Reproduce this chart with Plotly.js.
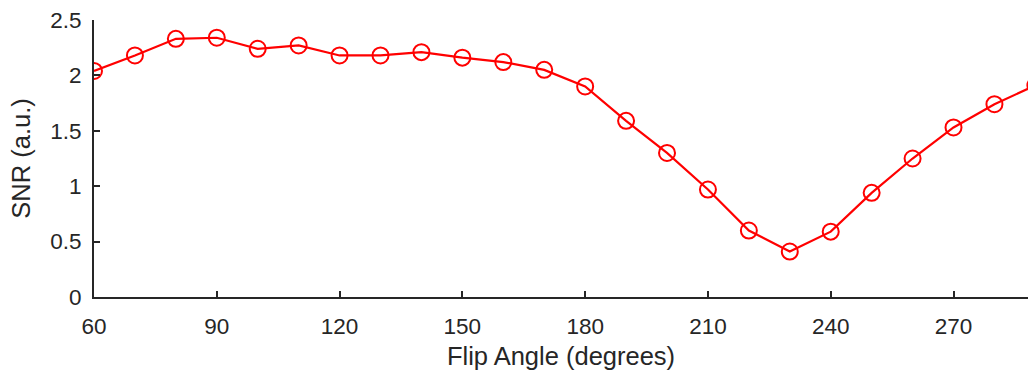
<!DOCTYPE html>
<html>
<head>
<meta charset="utf-8">
<script src="https://cdn.plot.ly/plotly-3.0.1.min.js"></script>
<style>html,body{margin:0;padding:0;background:#fff;}#chart{width:1028px;height:374px;}</style>
</head>
<body>
<div id="chart"></div>
<script>
const flipAngles = [60, 70, 80, 90, 100, 110, 120, 130, 140, 150, 160, 170, 180, 190, 200, 210, 220, 230, 240, 250, 260, 270, 280, 290];
const snr = [2.04, 2.18, 2.33, 2.34, 2.24, 2.27, 2.18, 2.18, 2.21, 2.16, 2.12, 2.05, 1.90, 1.59, 1.30, 0.97, 0.60, 0.41, 0.59, 0.94, 1.25, 1.53, 1.74, 1.91];
const xTicks = [60, 90, 120, 150, 180, 210, 240, 270];
const yTicks = [0, 0.5, 1, 1.5, 2, 2.5];
const yTickText = ['0', '0.5', '1', '1.5', '2', '2.5'];

const axisColor = '#262626';
const trace = {
  x: flipAngles, y: snr, type: 'scatter', mode: 'lines+markers',
  line: {color: '#ff0000', width: 2.2},
  marker: {symbol: 'circle-open', size: 16, color: '#ff0000', line: {color: '#ff0000', width: 2}},
  cliponaxis: true
};
const layout = {
  width: 1028, height: 374,
  margin: {l: 94, r: 0, t: 20, b: 77},
  paper_bgcolor: '#fff', plot_bgcolor: '#fff',
  showlegend: false,
  font: {family: 'Liberation Sans, Arial, sans-serif', color: axisColor},
  xaxis: {
    range: [60, 288.2], tickvals: xTicks, ticktext: xTicks.map(String),
    ticks: 'inside', ticklen: 6, tickwidth: 2, tickcolor: axisColor,
    showline: true, linecolor: axisColor, linewidth: 2, showgrid: false, zeroline: false,
    tickfont: {size: 22.5, color: axisColor}, ticklabelstandoff: 8,
    title: {text: 'Flip Angle (degrees)', font: {size: 25.5, color: axisColor}, standoff: 9}
  },
  yaxis: {
    range: [0, 2.5], tickvals: yTicks, ticktext: yTickText,
    ticks: 'inside', ticklen: 6, tickwidth: 2, tickcolor: axisColor,
    showline: true, linecolor: axisColor, linewidth: 2, showgrid: false, zeroline: false,
    tickfont: {size: 22.5, color: axisColor}, ticklabelstandoff: 6,
    title: {text: 'SNR (a.u.)', font: {size: 25.5, color: axisColor}, standoff: 12}
  }
};
Plotly.newPlot('chart', [trace], layout, {staticPlot: true, displayModeBar: false});
</script>
</body>
</html>
